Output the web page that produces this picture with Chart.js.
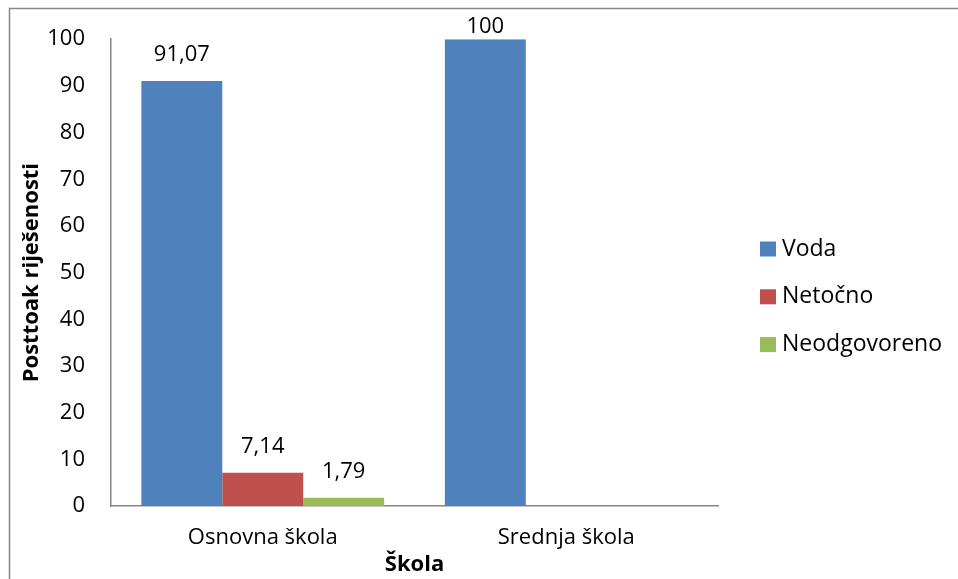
<!DOCTYPE html>
<html>
<head>
<meta charset="utf-8">
<script src="https://cdn.jsdelivr.net/npm/chart.js@4/dist/chart.umd.min.js"></script>
<style>
  html, body { margin: 0; padding: 0; background: #fff; }
  canvas { display: block; }
</style>
</head>
<body>
<canvas id="myChart" width="958" height="579"></canvas>
<script>
// school categories and result series
const categories = ['Osnovna škola', 'Srednja škola'];
const seriesNames = ['Voda', 'Netočno', 'Neodgovoreno'];
const vodaValues = [91.07, 100];
const netocnoValues = [7.14, null];
const neodgovorenoValues = [1.79, null];
const seriesColors = ['#4F81BD', '#C0504D', '#9BBB59'];
const yMin = 0, yMax = 100, yStep = 10;

const FONT = '"Open Sans", Lato, sans-serif';
const FONT_SIZE = 22;
const LEGEND_FONT_SIZE = 23;

// thin gray frame on the top and left edges
const framePlugin = {
  id: 'frame',
  beforeDraw(chart) {
    const ctx = chart.ctx;
    ctx.save();
    ctx.strokeStyle = '#868686';
    ctx.lineWidth = 1.5;
    ctx.beginPath();
    ctx.moveTo(9.5, chart.height);
    ctx.lineTo(9.5, 8.5);
    ctx.lineTo(chart.width, 8.5);
    ctx.stroke();
    ctx.restore();
  }
};

// value labels above each bar, decimal comma
const valueLabels = {
  id: 'valueLabels',
  afterDatasetsDraw(chart) {
    const ctx = chart.ctx;
    ctx.save();
    ctx.font = FONT_SIZE + 'px ' + FONT;
    ctx.fillStyle = '#000';
    ctx.textAlign = 'center';
    ctx.textBaseline = 'middle';
    chart.data.datasets.forEach((ds, i) => {
      chart.getDatasetMeta(i).data.forEach((bar, j) => {
        const v = ds.data[j];
        if (v === null || v === undefined) return;
        const y = Math.max(bar.y - 26, 27);
        ctx.fillText(String(v).replace('.', ','), bar.x, y);
      });
    });
    ctx.restore();
  }
};

// legend on the right, drawn from the dataset list
const sideLegend = {
  id: 'sideLegend',
  afterDraw(chart) {
    const ctx = chart.ctx;
    ctx.save();
    ctx.font = LEGEND_FONT_SIZE + 'px ' + FONT;
    ctx.textBaseline = 'middle';
    ctx.textAlign = 'left';
    chart.data.datasets.forEach((ds, i) => {
      const cy = 249 + i * 47.8;
      ctx.fillStyle = ds.backgroundColor;
      ctx.fillRect(760, cy - 7.5, 16, 15);
      ctx.fillStyle = '#000';
      ctx.fillText(ds.label, 782, cy);
    });
    ctx.restore();
  }
};

const ctx = document.getElementById('myChart').getContext('2d');
new Chart(ctx, {
  type: 'bar',
  data: {
    labels: categories,
    datasets: [
      { label: seriesNames[0], data: vodaValues, backgroundColor: seriesColors[0] },
      { label: seriesNames[1], data: netocnoValues, backgroundColor: seriesColors[1] },
      { label: seriesNames[2], data: neodgovorenoValues, backgroundColor: seriesColors[2] }
    ]
  },
  options: {
    responsive: false,
    animation: false,
    events: [],
    layout: { padding: { left: 10, top: 38, right: 240, bottom: 0 } },
    datasets: { bar: { categoryPercentage: 0.8, barPercentage: 1.0 } },
    plugins: {
      legend: { display: false },
      tooltip: { enabled: false }
    },
    scales: {
      x: {
        grid: { display: false, drawTicks: false },
        border: { color: '#868686', width: 1.5 },
        ticks: { color: '#000', padding: 19, font: { family: FONT, size: FONT_SIZE } },
        title: {
          display: true, text: 'Škola', color: '#000',
          font: { family: FONT, size: FONT_SIZE, weight: 'bold' },
          padding: { top: 0, bottom: 1 }
        },
        afterFit(scale) { scale.height = 73; }
      },
      y: {
        min: yMin, max: yMax,
        grid: { display: false, drawTicks: false },
        border: { color: '#868686', width: 1.5 },
        ticks: { stepSize: yStep, color: '#000', padding: 26, font: { family: FONT, size: FONT_SIZE } },
        title: {
          display: true, text: 'Posttoak riješenosti', color: '#000',
          font: { family: FONT, size: FONT_SIZE, weight: 'bold' },
          padding: { top: 9, bottom: 0 }
        },
        afterFit(scale) { scale.width = 101; }
      }
    }
  },
  plugins: [framePlugin, valueLabels, sideLegend]
});
</script>
</body>
</html>
